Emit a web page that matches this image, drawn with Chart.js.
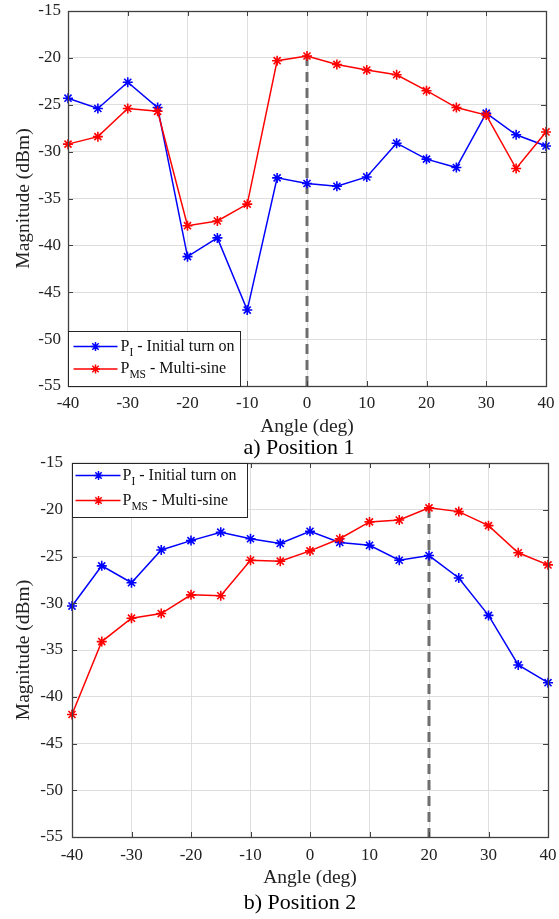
<!DOCTYPE html>
<html>
<head>
<meta charset="utf-8">
<script src="https://cdn.jsdelivr.net/npm/chart.js@4/dist/chart.umd.min.js"></script>
<style>
  html, body { margin: 0; padding: 0; background: #fff; }
  #wrap { position: relative; width: 559px; height: 919px; overflow: hidden; }
  #c1 { position: absolute; left: 0; top: 0; }
  #c2 { position: absolute; left: 0; top: 450px; }
</style>
</head>
<body>
<div id="wrap">
  <canvas id="c1" width="559" height="460"></canvas>
  <canvas id="c2" width="559" height="469"></canvas>
</div>
<script>
// ---- data ----
const angles = [-40, -35, -30, -25, -20, -15, -10, -5, 0, 5, 10, 15, 20, 25, 30, 35, 40];
const xTickValues = [-40, -30, -20, -10, 0, 10, 20, 30, 40];
const yTickValues = [-55, -50, -45, -40, -35, -30, -25, -20, -15];

// Position 1
const pos1Initial   = [-24.3, -25.4, -22.6, -25.3, -41.2, -39.2, -46.9, -32.8, -33.4, -33.7, -32.7, -29.1, -30.8, -31.7, -25.9, -28.2, -29.4];
const pos1MultiSine = [-29.2, -28.4, -25.4, -25.7, -37.9, -37.4, -35.6, -20.3, -19.8, -20.7, -21.3, -21.8, -23.5, -25.3, -26.1, -31.8, -27.9];
// Position 2
const pos2Initial   = [-30.3, -26.0, -27.8, -24.3, -23.3, -22.4, -23.1, -23.6, -22.3, -23.5, -23.8, -25.4, -24.9, -27.3, -31.3, -36.6, -38.5];
const pos2MultiSine = [-41.9, -34.1, -31.6, -31.1, -29.1, -29.2, -25.4, -25.5, -24.4, -23.1, -21.3, -21.1, -19.8, -20.2, -21.7, -24.6, -25.9];

// dashed peak markers
const peakAngles = [0, 20];
const peakLineY = [-19.8, -55];

// text
const legendBase = ['P', 'P'];
const legendSubs = ['I', 'MS'];
const legendRest = [' - Initial turn on', ' - Multi-sine'];
const captions = ['a) Position 1', 'b) Position 2'];
const xTitle = 'Angle (deg)';
const yTitle = 'Magnitude (dBm)';

// ---- drawing ----
const FONT = '"Liberation Serif", "Times New Roman", serif';
const BLUE = '#0000ff';
const RED = '#ff0000';

const framePlugin = {
  id: 'matlabFrame',
  afterDatasetsDraw(chart) {
    const { ctx, chartArea: a, scales } = chart;
    ctx.save();
    ctx.strokeStyle = '#404040';
    ctx.lineWidth = 1;
    const L = 5;
    scales.x.ticks.forEach(t => {
      const px = Math.round(scales.x.getPixelForValue(t.value)) + 0.5;
      ctx.beginPath();
      ctx.moveTo(px, a.bottom); ctx.lineTo(px, a.bottom - L);
      ctx.moveTo(px, a.top); ctx.lineTo(px, a.top + L);
      ctx.stroke();
    });
    scales.y.ticks.forEach(t => {
      const py = Math.round(scales.y.getPixelForValue(t.value)) + 0.5;
      ctx.beginPath();
      ctx.moveTo(a.left, py); ctx.lineTo(a.left + L, py);
      ctx.moveTo(a.right, py); ctx.lineTo(a.right - L, py);
      ctx.stroke();
    });
    ctx.lineWidth = 1.3;
    ctx.strokeRect(Math.round(a.left) + 0.5, Math.round(a.top) + 0.5, Math.round(a.width), Math.round(a.height));
    ctx.restore();
  }
};

function legendPlugin(p) {
  return {
    id: 'matlabLegend',
    afterDraw(chart) {
      const { ctx, chartArea: a } = chart;
      const x0 = Math.round(a.left) + 0.5;
      const y0 = p.corner === 'top' ? Math.round(a.top) + 0.5 : Math.round(a.bottom) + 0.5 - p.h;
      ctx.save();
      ctx.fillStyle = '#fff';
      ctx.fillRect(x0, y0, p.w, p.h);
      ctx.strokeStyle = '#262626';
      ctx.lineWidth = 1;
      ctx.strokeRect(x0, y0, p.w, p.h);
      const ds = chart.data.datasets.filter(d => d.legendIndex !== undefined);
      ds.forEach(d => {
        const i = d.legendIndex;
        const y = y0 + p.rows[i];
        ctx.strokeStyle = d.borderColor;
        ctx.fillStyle = d.borderColor;
        ctx.lineWidth = 1.5;
        ctx.beginPath();
        ctx.moveTo(x0 + p.lx1, y); ctx.lineTo(x0 + p.lx2, y);
        ctx.stroke();
        Chart.helpers.drawPoint(ctx, { pointStyle: 'star', radius: 4.5, borderWidth: 1.5, rotation: 0 }, x0 + p.mx, y);
        ctx.fillStyle = '#111';
        ctx.textBaseline = 'middle';
        ctx.textAlign = 'left';
        let tx = x0 + p.tx;
        ctx.font = '16px ' + FONT;
        ctx.fillText(legendBase[i], tx, y);
        tx += ctx.measureText(legendBase[i]).width;
        ctx.font = '11.5px ' + FONT;
        ctx.fillText(legendSubs[i], tx, y + 6);
        tx += ctx.measureText(legendSubs[i]).width;
        ctx.font = '16px ' + FONT;
        ctx.fillText(legendRest[i], tx, y);
      });
      ctx.restore();
    }
  };
}

function captionPlugin(idx, g) {
  return {
    id: 'caption',
    afterDraw(chart) {
      const { ctx } = chart;
      ctx.save();
      ctx.fillStyle = '#000';
      ctx.font = '22px ' + FONT;
      ctx.textAlign = 'center';
      ctx.textBaseline = 'middle';
      ctx.fillText(captions[idx], g.capX, g.capY);
      ctx.restore();
    }
  };
}

function toPoints(vals) {
  return angles.map((a, i) => ({ x: a, y: vals[i] }));
}

function makeChart(id, idx, initial, multi, g) {
  const ctx = document.getElementById(id);
  return new Chart(ctx, {
    type: 'line',
    data: {
      datasets: [
        {
          data: toPoints(initial),
          legendIndex: 0,
          borderColor: BLUE, backgroundColor: BLUE,
          pointBorderColor: BLUE, pointBackgroundColor: BLUE,
          borderWidth: 1.5, pointStyle: 'star', pointRadius: 5, pointBorderWidth: 1.6,
          tension: 0, clip: false, order: 2
        },
        {
          data: toPoints(multi),
          legendIndex: 1,
          borderColor: RED, backgroundColor: RED,
          pointBorderColor: RED, pointBackgroundColor: RED,
          borderWidth: 1.5, pointStyle: 'star', pointRadius: 5, pointBorderWidth: 1.6,
          tension: 0, clip: false, order: 1
        },
        {
          data: peakLineY.map(v => ({ x: peakAngles[idx], y: v })),
          borderColor: '#6e6e6e', borderWidth: 3, borderDash: [10, 6],
          pointRadius: 0, tension: 0, order: 10
        }
      ]
    },
    options: {
      responsive: false,
      animation: false,
      events: [],
      layout: { padding: { top: g.padTop, right: g.padRight, left: 0, bottom: g.padBottom } },
      plugins: {
        legend: { display: false },
        tooltip: { enabled: false },
        title: { display: false }
      },
      scales: {
        x: {
          type: 'linear', min: -40, max: 40,
          afterBuildTicks: s => { s.ticks = xTickValues.map(v => ({ value: v })); },
          afterFit: s => { s.height = g.xAxisH; s.paddingLeft = 0; s.paddingRight = 0; },
          grid: { color: '#dedede', lineWidth: 1, drawTicks: false },
          border: { display: false },
          ticks: { padding: g.xTickPad, color: '#222', font: { family: FONT, size: 17 }, maxRotation: 0, autoSkip: false },
          title: { display: true, text: xTitle, color: '#222', font: { family: FONT, size: 19.5, lineHeight: 1 }, padding: { top: 0, bottom: g.xTitlePadBottom } }
        },
        y: {
          type: 'linear', min: -55, max: -15,
          afterBuildTicks: s => { s.ticks = yTickValues.map(v => ({ value: v })); },
          afterFit: s => { s.width = g.yAxisW; s.paddingTop = 0; s.paddingBottom = 0; },
          grid: { color: '#dedede', lineWidth: 1, drawTicks: false },
          border: { display: false },
          ticks: { padding: g.yTickPad, color: '#222', font: { family: FONT, size: 17 }, autoSkip: false },
          title: { display: true, text: yTitle, color: '#222', font: { family: FONT, size: 19.5, lineHeight: 1 }, padding: { top: 14, bottom: 0 } }
        }
      }
    },
    plugins: [framePlugin, legendPlugin(g.legend), captionPlugin(idx, g)]
  });
}

makeChart('c1', 0, pos1Initial, pos1MultiSine, {
  padTop: 11, padRight: 13, padBottom: 23, xAxisH: 51, xTickPad: 7, xTitlePadBottom: 0,
  yAxisW: 68, yTickPad: 7, capX: 299, capY: 448.5,
  legend: { corner: 'bottom', w: 172, h: 55, rows: [15, 37.5], lx1: 5, lx2: 49, mx: 27, tx: 52 }
});
makeChart('c2', 1, pos2Initial, pos2MultiSine, {
  padTop: 13, padRight: 11, padBottom: 28, xAxisH: 54, xTickPad: 8, xTitlePadBottom: 3,
  yAxisW: 72, yTickPad: 9, capX: 300, capY: 453,
  legend: { corner: 'top', w: 175, h: 54, rows: [12, 37], lx1: 3, lx2: 48, mx: 26, tx: 50 }
});
</script>
</body>
</html>
